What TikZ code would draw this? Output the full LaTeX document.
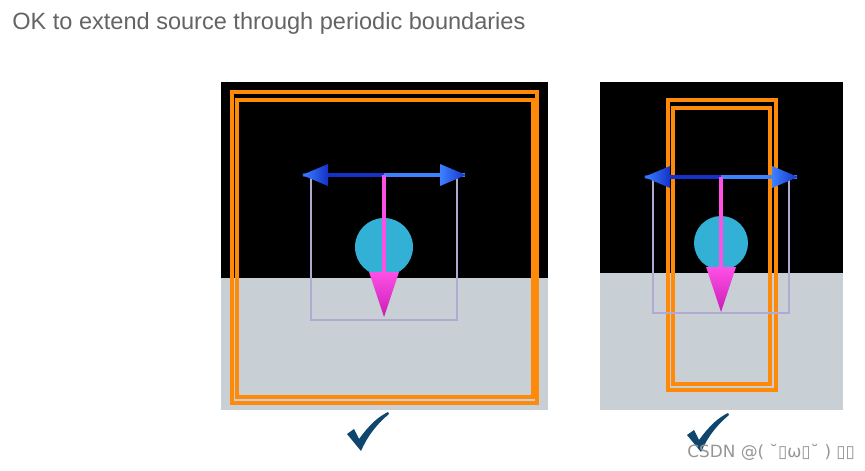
\documentclass[tikz,border=0pt]{standalone}
\usepackage{fontspec}
\setmainfont{Liberation Sans}
\newfontfamily\wmfont{DejaVu Sans}
\definecolor{ttl}{RGB}{100,100,100}
\definecolor{ground}{RGB}{200,208,214}
\definecolor{orng}{RGB}{255,138,10}
\definecolor{lav}{RGB}{176,170,208}
\definecolor{bdark}{RGB}{20,50,200}
\definecolor{blight}{RGB}{60,130,255}
\definecolor{pinkl}{RGB}{255,80,230}
\definecolor{pinkd}{RGB}{200,30,180}
\definecolor{cyanb}{RGB}{50,176,214}
\definecolor{chk}{RGB}{14,70,110}
\definecolor{wm}{RGB}{150,150,150}
\tikzset{
  boxline/.style={draw=orng, line width=1.9pt},
  lavline/.style={draw=lav, line width=1.6pt},
  arrl/.style={draw=bdark, line width=1.8pt},
  arrr/.style={draw=blight, line width=1.8pt},
  pinkline/.style={draw=pinkl, line width=1.8pt},
  checkmark/.style={fill=chk},
}
\newcommand{\srcfig}[7]{%
  \begin{scope}
    \draw[lavline] (#1-#3,#2+2) -- (#1-#3,#4) -- (#1+#3,#4) -- (#1+#3,#2+2);
    \draw[arrl] (#1-#3-8,#2) -- (#1,#2);
    \draw[arrr] (#1,#2) -- (#1+#3+8,#2);
    \shade[left color=blight, right color=bdark] (#1-#3-9,#2) -- (#1-#3+17,#2-11) -- (#1-#3+17,#2+11) -- cycle;
    \shade[left color=blight, right color=bdark] (#1+#3+9,#2) -- (#1+#3-17,#2-11) -- (#1+#3-17,#2+11) -- cycle;
    \fill[cyanb] (#1,#5) circle [radius=#6];
    \draw[pinkline] (#1,#2) -- (#1,#7);
    \shade[top color=pinkl, bottom color=pinkd] (#1-15,#7) -- (#1+15,#7) -- (#1,#7+45) -- cycle;
  \end{scope}}
\newcommand{\chkmark}[2]{%
  \fill[checkmark] (#1-11,#2+21) -- (#1-4,#2+16) -- (#1+1,#2+26)
    .. controls (#1+12,#2+11) and (#1+20,#2+4) .. (#1+30,#2-1)
    -- (#1+31,#2+1)
    .. controls (#1+20,#2+10) and (#1+10,#2+22) .. (#1+3,#2+38) -- cycle;}
\begin{document}
\begin{tikzpicture}[x=0.02cm, y=-0.02cm]
  \useasboundingbox[fill=white] (0,0) rectangle (865,470);
  \node[anchor=base west, text=ttl, font=\fontsize{13.4}{15}\selectfont, inner sep=0] (title) at (12,30) {OK to extend source through periodic boundaries};
  % left panel
  \fill[black] (221,82) rectangle (548,278);
  \fill[ground] (221,278) rectangle (548,410);
  \draw[boxline] (232,92) rectangle (537,403);
  \draw[boxline] (237,100) rectangle (533,397);
  \srcfig{384}{175}{73}{320}{247}{29}{272}
  % right panel
  \fill[black] (600,82) rectangle (843,273);
  \fill[ground] (600,273) rectangle (843,410);
  \draw[boxline] (668,100) rectangle (776,390);
  \draw[boxline] (673,108) rectangle (770,384);
  \srcfig{721}{177}{68}{313}{243}{27}{267}
  % checkmarks
  \chkmark{358}{413}
  \chkmark{698}{414}
  \node[anchor=base west, text=wm, font=\wmfont\fontsize{9.6}{11}\selectfont, inner sep=0] (wmark) at (687,457) {CSDN @( ˘▯ω▯˘ ) ▯▯};
\end{tikzpicture}
\end{document}
